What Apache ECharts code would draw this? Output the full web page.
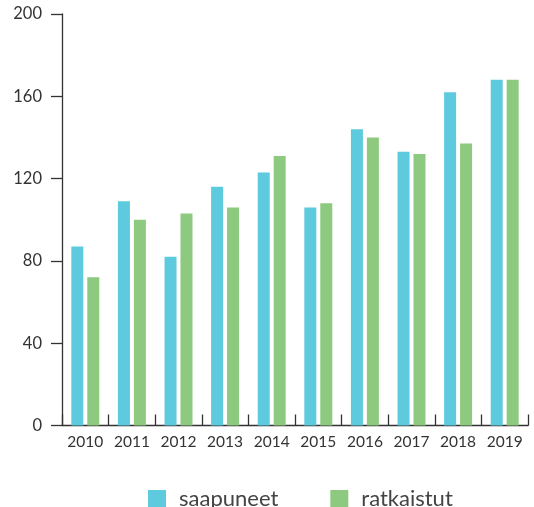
<!DOCTYPE html>
<html>
<head>
<meta charset="utf-8">
<script src="https://cdn.jsdelivr.net/npm/echarts@6/dist/echarts.min.js"></script>
<style>
  html, body { margin: 0; padding: 0; background: #fff; }
  #chart { width: 534px; height: 507px; }
</style>
</head>
<body>
<div id="chart"></div>
<script>
// Yearly counts of arrived (saapuneet) and resolved (ratkaistut) cases
const years = ['2010', '2011', '2012', '2013', '2014', '2015', '2016', '2017', '2018', '2019'];
const saapuneet = [87, 109, 82, 116, 123, 106, 144, 133, 162, 168];
const ratkaistut = [72, 100, 103, 106, 131, 108, 140, 132, 137, 168];
const yTicks = [0, 40, 80, 120, 160, 200];

const BLUE = '#5ecadd';
const GREEN = '#8dc97e';
const AXIS = '#333333';
const FONT = 'Lato, "Open Sans", sans-serif';

const chart = echarts.init(document.getElementById('chart'), null, { renderer: 'canvas' });

chart.setOption({
  animation: false,
  textStyle: { fontFamily: FONT },
  grid: { left: 62, right: 6, top: 14, bottom: 81.5, containLabel: false },
  legend: {
    left: 148,
    top: 488,
    itemWidth: 18,
    itemHeight: 18,
    itemGap: 52,
    padding: 0,
    icon: 'rect',
    textStyle: { fontSize: 22, lineHeight: 18, color: '#444', fontFamily: FONT, padding: [0, 0, 0, 8] },
    data: ['saapuneet', 'ratkaistut']
  },
  xAxis: {
    type: 'category',
    data: years,
    axisLine: { show: true, lineStyle: { color: AXIS, width: 1.3 } },
    axisTick: { show: true, inside: true, length: 11, interval: 0, alignWithLabel: false, lineStyle: { color: AXIS, width: 1.3 } },
    axisLabel: { fontSize: 15.5, color: '#333', margin: 8, interval: 0, fontFamily: FONT },
    splitLine: { show: false }
  },
  yAxis: {
    type: 'value',
    min: yTicks[0],
    max: yTicks[yTicks.length - 1],
    interval: yTicks[1] - yTicks[0],
    axisLine: { show: true, lineStyle: { color: AXIS, width: 1.3 } },
    axisTick: { show: true, length: 11, lineStyle: { color: AXIS, width: 1.3 } },
    axisLabel: { fontSize: 16.5, color: '#333', margin: 20, fontFamily: FONT },
    splitLine: { show: false }
  },
  series: [
    {
      name: 'saapuneet',
      type: 'bar',
      data: saapuneet,
      barWidth: 12,
      barGap: '33%',
      itemStyle: { color: BLUE }
    },
    {
      name: 'ratkaistut',
      type: 'bar',
      data: ratkaistut,
      barWidth: 12,
      barGap: '33%',
      itemStyle: { color: GREEN }
    }
  ]
});
</script>
</body>
</html>
